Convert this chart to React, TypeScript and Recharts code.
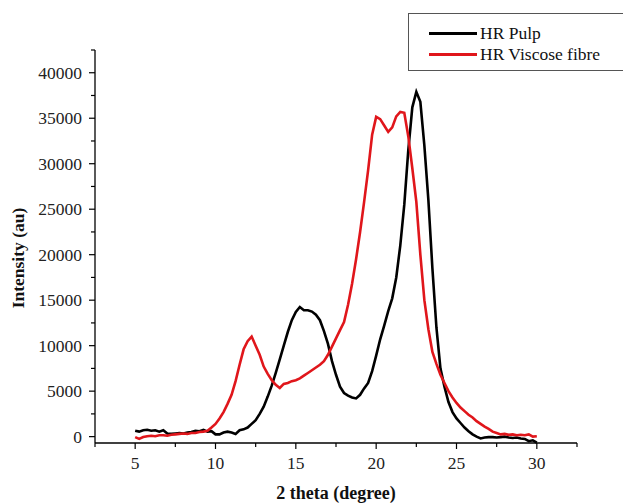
import React from "react";
import { LineChart, Line, XAxis, YAxis, Legend } from "recharts";

// 2 theta (degree)
const twoTheta = [
  5, 5.25, 5.5, 5.75, 6, 6.25, 6.5, 6.75, 7, 7.25, 7.5, 7.75, 8, 8.25, 8.5, 8.75,
  9, 9.25, 9.5, 9.75, 10, 10.25, 10.5, 10.75, 11, 11.25, 11.5, 11.75, 12, 12.25,
  12.5, 12.75, 13, 13.25, 13.5, 13.75, 14, 14.25, 14.5, 14.75, 15, 15.25, 15.5,
  15.75, 16, 16.25, 16.5, 16.75, 17, 17.25, 17.5, 17.75, 18, 18.25, 18.5, 18.75,
  19, 19.25, 19.5, 19.75, 20, 20.25, 20.5, 20.75, 21, 21.25, 21.5, 21.75, 22,
  22.25, 22.5, 22.75, 23, 23.25, 23.5, 23.75, 24, 24.25, 24.5, 24.75, 25, 25.25,
  25.5, 25.75, 26, 26.25, 26.5, 26.75, 27, 27.25, 27.5, 27.75, 28, 28.25, 28.5,
  28.75, 29, 29.25, 29.5, 29.75, 30,
];

const hrPulp = [
  650, 550, 700, 750,
  650, 700, 550, 700,
  350, 300, 350, 400,
  350, 450, 500, 650,
  600, 750, 550, 600,
  250, 250, 450, 550,
  450, 300, 700, 800,
  1000, 1400, 1800, 2500,
  3300, 4400, 5600, 7000,
  8500, 10000, 11500, 12800,
  13700, 14250, 13900, 13900,
  13750, 13400, 12800, 11600,
  10200, 8300, 6800, 5500,
  4800, 4500, 4300, 4200,
  4600, 5300, 5900, 7200,
  8900, 10700, 12200, 13800,
  15200, 17500, 21000, 25500,
  31500, 36200, 37900, 36800,
  32000, 26000, 18500, 12000,
  7500, 5500, 3800, 2700,
  2000, 1500, 1000, 600,
  250, 0, -200, -100,
  -50, -50, -100, -50,
  0, -100, -150, -100,
  -200, -250, -500, -400,
  -650,
];

const hrViscose = [
  -50, -250, -50, 50,
  100, 50, 150, 150,
  100, 200, 250, 300,
  350, 300, 400, 400,
  500, 550, 650, 1000,
  1400, 2000, 2700, 3600,
  4600, 6100, 7900, 9600,
  10500, 11000, 10000, 9000,
  7700, 6900, 6200, 5700,
  5350, 5800, 5900, 6100,
  6200, 6400, 6700, 7000,
  7300, 7600, 7900, 8300,
  9000, 9900, 10800, 11700,
  12600, 14500, 16800, 19500,
  22500, 25800, 29300, 33200,
  35150, 34900, 34200, 33500,
  34000, 35200, 35700, 35600,
  33000, 29500, 25800, 20000,
  15000, 11800, 9300, 8000,
  6800, 5900, 5000, 4300,
  3700, 3200, 2800, 2400,
  2100, 1700, 1400, 1100,
  850, 550, 400, 250,
  300, 200, 250, 150,
  200, 150, 250, 0,
  50,
];

const xTicks = [2.5, 5, 7.5, 10, 12.5, 15, 17.5, 20, 22.5, 25, 27.5, 30, 32.5];
const yTicks = [
  0, 2500, 5000, 7500, 10000, 12500, 15000, 17500, 20000, 22500, 25000, 27500,
  30000, 32500, 35000, 37500, 40000, 42500,
];

const data = twoTheta.map((x, i) => ({ x, pulp: hrPulp[i], viscose: hrViscose[i] }));

const FONT = "'Liberation Serif', 'Times New Roman', serif";
const RED = "#e0161b";
const X_MARGIN = 20;
const Y_MARGIN = 13;

const XTick = ({ x, y, payload }: any) => {
  const v = payload.value;
  const major = v % 5 === 0;
  const axisY = y - X_MARGIN;
  return (
    <g>
      <line x1={x} x2={x} y1={axisY} y2={axisY + (major ? 6 : 4)} stroke="#000" strokeWidth={1.2} />
      {major && (
        <text x={x} y={y} dy="0.35em" textAnchor="middle" fontFamily={FONT} fontSize={17.5} fill="#222">
          {v}
        </text>
      )}
    </g>
  );
};

const YTick = ({ x, y, payload }: any) => {
  const v = payload.value;
  const major = v % 5000 === 0 && v <= 40000;
  const axisX = x + Y_MARGIN;
  return (
    <g>
      <line x1={axisX} x2={axisX - (major ? 6 : 4)} y1={y} y2={y} stroke="#000" strokeWidth={1.2} />
      {major && (
        <text x={x} y={y} dy="0.35em" textAnchor="end" fontFamily={FONT} fontSize={17.5} fill="#222">
          {v}
        </text>
      )}
    </g>
  );
};

const XTitle = () => (
  <text x={336} y={499} textAnchor="middle" fontFamily={FONT} fontSize={18} fontWeight="bold" fill="#111">
    2 theta (degree)
  </text>
);

const YTitle = () => (
  <text
    x={18}
    y={258}
    transform="rotate(-90, 18, 258)"
    textAnchor="middle"
    dominantBaseline="central"
    fontFamily={FONT}
    fontSize={17.5}
    fontWeight="bold"
    fill="#111"
  >
    Intensity (au)
  </text>
);

const LegendBox = () => {
  const rows = [
    { name: "HR Pulp", color: "#000" },
    { name: "HR Viscose fibre", color: RED },
  ];
  return (
    <div
      style={{
        width: 240,
        height: 58,
        boxSizing: "border-box",
        border: "1px solid #555",
        background: "#fff",
        position: "relative",
        fontFamily: FONT,
        fontSize: 17.5,
        color: "#111",
      }}
    >
      {rows.map((r, i) => (
        <div
          key={r.name}
          style={{
            position: "absolute",
            left: 20,
            top: 9 + i * 21,
            height: 20,
            display: "flex",
            alignItems: "center",
            whiteSpace: "nowrap",
          }}
        >
          <span style={{ display: "inline-block", width: 48, height: 3, background: r.color }} />
          <span style={{ marginLeft: 3 }}>{r.name}</span>
        </div>
      ))}
    </div>
  );
};

export default function App() {
  return (
    <div
      style={{
        position: "absolute",
        left: 0,
        top: 0,
        width: 623,
        height: 503,
        overflow: "hidden",
        background: "#fff",
      }}
    >
      <LineChart width={623} height={503} data={data} margin={{ top: 50, right: 46, bottom: 0, left: 0 }}>
        <XAxis
          dataKey="x"
          type="number"
          domain={[2.5, 32.5]}
          ticks={xTicks}
          interval={0}
          tickSize={0}
          tickMargin={X_MARGIN}
          tickLine={false}
          tick={<XTick />}
          height={60}
          axisLine={{ stroke: "#000", strokeWidth: 1.3 }}
          label={<XTitle />}
        />
        <YAxis
          type="number"
          domain={[-700, 42500]}
          ticks={yTicks}
          interval={0}
          tickSize={0}
          tickMargin={Y_MARGIN}
          tickLine={false}
          tick={<YTick />}
          width={95}
          axisLine={{ stroke: "#000", strokeWidth: 1.3 }}
          label={<YTitle />}
        />
        <Legend
          layout="horizontal"
          verticalAlign="middle"
          wrapperStyle={{ top: 13, left: 408, width: 240 }}
          content={<LegendBox />}
        />
        <Line
          dataKey="pulp"
          name="HR Pulp"
          stroke="#000"
          strokeWidth={2.6}
          dot={false}
          type="linear"
          isAnimationActive={false}
        />
        <Line
          dataKey="viscose"
          name="HR Viscose fibre"
          stroke={RED}
          strokeWidth={2.6}
          dot={false}
          type="linear"
          isAnimationActive={false}
        />
      </LineChart>
    </div>
  );
}
